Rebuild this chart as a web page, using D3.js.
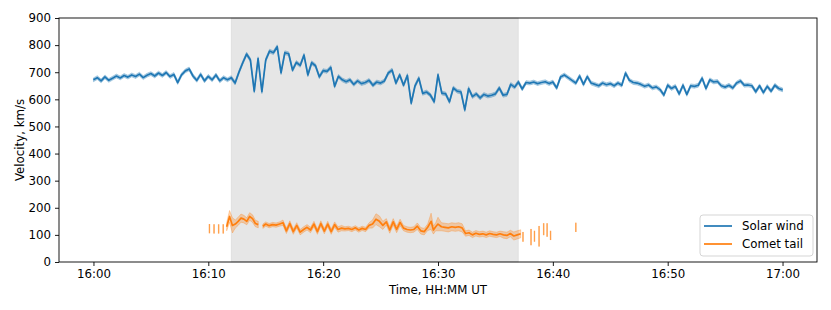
<!DOCTYPE html>
<html>
<head>
<meta charset="utf-8">
<script src="https://cdn.jsdelivr.net/npm/d3@7"></script>
<style>
  body { margin: 0; background: #fff; }
  svg { font-family: "DejaVu Sans", sans-serif; }
</style>
</head>
<body>
<div id="chart"></div>
<script>
var width = 831;
var height = 310;

// plot area, in pixels
var plotLeft = 59;
var plotRight = 817;
var plotTop = 18;
var plotBottom = 262;

var fontSize = 11.8;

var blue = "#1f77b4";
var orange = "#ff7f0e";

// Solar wind: one reading every 20 s starting at 16:00:00 (km/s)
var windStart = "16:00:00";
var windStepSeconds = 20;
var windSpeed = [
  672, 680, 668, 683, 670, 678, 686, 679, 688, 682, 690, 684,
  693, 680, 689, 695, 686, 697, 688, 699, 684, 692, 662, 690,
  705, 712, 686, 670, 692, 668, 685, 672, 690, 668, 680, 672,
  680, 660, 700, 735, 767, 745, 630, 750, 628, 745, 778, 772,
  794, 698, 772, 768, 708, 736, 725, 763, 690, 735, 724, 683,
  706, 703, 718, 648, 685, 672, 665, 672, 655, 668, 658, 662,
  670, 652, 664, 660, 668, 697, 708, 660, 690, 652, 688, 586,
  650, 678, 622, 627, 616, 591, 690, 623, 620, 591, 642, 630,
  627, 561, 640, 610, 620, 605, 618, 612, 615, 620, 642, 615,
  618, 655, 645, 664, 638, 662, 660, 664, 658, 662, 665, 658,
  664, 642, 682, 690, 680, 670, 660, 686, 655, 684, 660, 655,
  650, 660, 654, 658, 650, 660, 652, 697, 670, 662, 660, 655,
  648, 653, 642, 646, 636, 616, 652, 640, 648, 620, 652, 618,
  650, 648, 652, 678, 640, 672, 664, 666, 650, 645, 652, 642,
  660, 668, 652, 653, 650, 628, 650, 625, 648, 630, 652, 640,
  635
];
// uncertainty of the solar wind speed (km/s)
var windError = 7;

// Comet tail: minutes after 16:00, speed (km/s, null = gap), uncertainty (km/s)
var cometMinute = [
  10.1, 10.3, 10.5, 10.7, 10.9, 11.1, 11.3, 11.45,
  11.6, 11.85, 12.1, 12.35, 12.6, 12.85, 13.1, 13.35, 13.6, 13.85, 14.1, 14.35, 14.55,
  14.75, 15.0, 15.3, 15.6, 15.9, 16.2, 16.5, 16.8, 17.1, 17.4, 17.7, 18.0, 18.3, 18.6,
  18.9, 19.2, 19.5, 19.8, 20.1, 20.4, 20.7, 21.0, 21.3, 21.6, 21.9, 22.2, 22.5, 22.8,
  23.1, 23.4, 23.7, 24.0, 24.3, 24.6, 24.9, 25.2, 25.5, 25.8, 26.1, 26.4, 26.7, 27.0,
  27.3, 27.6, 27.9, 28.2, 28.5, 28.8, 29.1, 29.4, 29.6, 29.8, 30.0, 30.3, 30.6, 30.9,
  31.2, 31.5, 31.8, 32.1, 32.4, 32.7, 33.0, 33.3, 33.6, 33.9, 34.2, 34.5, 34.8, 35.1,
  35.4, 35.7, 36.0, 36.3, 36.6, 36.9, 37.2, 37.3,
  37.4, 37.7, 38.1, 38.25, 38.4, 38.6, 38.8, 39.0, 39.2, 39.35, 39.5, 39.65, 39.8, 40.5,
  42.0
];
var cometSpeed = [
  123, null, 122, null, 122, null, 122, null,
  130, 168, 135, 140, 150, 162, 158, 150, 168, 160, 142, 138, null,
  132, 140, 134, 138, 136, 140, 145, 115, 142, 112, 135, 110, 120, 128,
  118, 140, 112, 142, 114, 140, 112, 138, 120, 125, 122, 124, 120, 126,
  118, 124, 120, 135, 140, 158, 150, 135, 148, 118, 148, 120, 146, 125,
  120, 118, 120, 132, 115, 112, 128, 150, 118, 130, 140, 130, 128, 126,
  130, 128, 130, 126, 105, 108, 100, 106, 102, 104, 100, 105, 102, 100,
  104, 100, 98, 105, 96, 100, 104, null,
  93, null, 92, null, 95, null, 95, null, 121, null, 118, null, 98, null,
  128
];
var cometError = [
  17, 0, 17, 0, 17, 0, 17, 0,
  15, 22, 28, 15, 15, 15, 14, 13, 14, 14, 12, 12, 0,
  8, 8, 8, 8, 8, 8, 10, 10, 10, 10, 10, 10, 10, 10,
  10, 10, 10, 10, 10, 10, 10, 10, 10, 10, 8, 8, 8, 8,
  8, 8, 8, 10, 15, 20, 20, 15, 12, 12, 12, 12, 12, 10,
  10, 10, 10, 12, 12, 12, 12, 30, 15, 15, 25, 15, 15, 15,
  15, 15, 15, 15, 10, 10, 10, 10, 10, 10, 10, 10, 10, 10,
  10, 12, 12, 12, 15, 15, 15, 0,
  18, 0, 30, 0, 20, 0, 38, 0, 22, 0, 25, 0, 17, 0,
  17
];

// shaded interval
var spanStart = "16:12:00";
var spanEnd = "16:37:00";

var yTicks = [0, 100, 200, 300, 400, 500, 600, 700, 800, 900];
var xTickLabels = ["16:00", "16:10", "16:20", "16:30", "16:40", "16:50", "17:00"];

var parseTime = d3.timeParse("%H:%M:%S");
var day = parseTime("16:00:00");

function minutesToDate(m) {
    return new Date(day.getTime() + m * 60000);
}

var windData = windSpeed.map(function (v, i) {
    var t = new Date(parseTime(windStart).getTime() + i * windStepSeconds * 1000);
    return { time: t, value: v, lo: v - windError, hi: v + windError };
});

var cometData = cometMinute.map(function (m, i) {
    var v = cometSpeed[i];
    return {
        time: minutesToDate(m),
        value: v,
        lo: v === null ? null : v - cometError[i],
        hi: v === null ? null : v + cometError[i]
    };
});

// matplotlib style 5% margin on the time axis
var xScale = d3.scaleTime()
    .domain([minutesToDate(-3), minutesToDate(63)])
    .range([plotLeft, plotRight]);

var yScale = d3.scaleLinear()
    .domain([0, 900])
    .range([plotBottom, plotTop]);

var svg = d3.select("#chart").append("svg")
    .attr("width", width)
    .attr("height", height);

// shaded interval
svg.append("rect")
    .attr("x", xScale(parseTime(spanStart)))
    .attr("y", plotTop)
    .attr("width", xScale(parseTime(spanEnd)) - xScale(parseTime(spanStart)))
    .attr("height", plotBottom - plotTop)
    .attr("fill", "#808080")
    .attr("fill-opacity", 0.2)
    .attr("stroke", "#808080")
    .attr("stroke-opacity", 0.12);

function hasValue(d) {
    return d.value !== null;
}

var band = d3.area()
    .defined(hasValue)
    .x(function (d) { return xScale(d.time); })
    .y0(function (d) { return yScale(d.lo); })
    .y1(function (d) { return yScale(d.hi); });

var line = d3.line()
    .defined(hasValue)
    .x(function (d) { return xScale(d.time); })
    .y(function (d) { return yScale(d.value); });

function drawSeries(data, color) {
    svg.append("path")
        .attr("d", band(data))
        .attr("fill", color)
        .attr("fill-opacity", 0.3)
        .attr("stroke", color)
        .attr("stroke-opacity", 0.3)
        .attr("stroke-width", 1);

    // single readings between gaps only show their error bar
    var isolated = data.filter(function (d, i) {
        var prev = data[i - 1];
        var next = data[i + 1];
        return hasValue(d) && (!prev || !hasValue(prev)) && (!next || !hasValue(next));
    });
    svg.selectAll(null)
        .data(isolated)
        .enter()
        .append("line")
        .attr("x1", function (d) { return xScale(d.time); })
        .attr("x2", function (d) { return xScale(d.time); })
        .attr("y1", function (d) { return yScale(d.lo); })
        .attr("y2", function (d) { return yScale(d.hi); })
        .attr("stroke", color)
        .attr("stroke-opacity", 0.5)
        .attr("stroke-width", 1.5);

    svg.append("path")
        .attr("d", line(data))
        .attr("fill", "none")
        .attr("stroke", color)
        .attr("stroke-width", 1.7)
        .attr("stroke-linejoin", "round");
}

drawSeries(windData, blue);
drawSeries(cometData, orange);

// axes
var xAxis = d3.axisBottom(xScale)
    .tickValues(xTickLabels.map(function (s) { return parseTime(s + ":00"); }))
    .tickFormat(d3.timeFormat("%H:%M"))
    .tickSize(4)
    .tickPadding(4);

var yAxis = d3.axisLeft(yScale)
    .tickValues(yTicks)
    .tickSize(4)
    .tickPadding(4);

var xAxisGroup = svg.append("g")
    .attr("transform", "translate(0," + plotBottom + ")")
    .call(xAxis);

var yAxisGroup = svg.append("g")
    .attr("transform", "translate(" + plotLeft + ",0)")
    .call(yAxis);

[xAxisGroup, yAxisGroup].forEach(function (g) {
    g.select(".domain").remove();
    g.selectAll("line").attr("stroke", "#000").attr("stroke-width", 0.9);
    g.selectAll("text")
        .attr("font-family", "DejaVu Sans, sans-serif")
        .attr("font-size", fontSize)
        .attr("fill", "#000");
});

svg.append("rect")
    .attr("x", plotLeft)
    .attr("y", plotTop)
    .attr("width", plotRight - plotLeft)
    .attr("height", plotBottom - plotTop)
    .attr("fill", "none")
    .attr("stroke", "#000")
    .attr("stroke-width", 0.9);

svg.append("text")
    .attr("x", (plotLeft + plotRight) / 2)
    .attr("y", 294)
    .attr("text-anchor", "middle")
    .attr("font-size", fontSize)
    .text("Time, HH:MM UT");

svg.append("text")
    .attr("transform", "translate(24," + (plotTop + plotBottom) / 2 + ") rotate(-90)")
    .attr("text-anchor", "middle")
    .attr("font-size", fontSize)
    .text("Velocity, km/s");

// legend
var legendItems = [
    { name: "Solar wind", color: blue },
    { name: "Comet tail", color: orange }
];

var legend = svg.append("g").attr("transform", "translate(700,215)");

legend.append("rect")
    .attr("width", 113)
    .attr("height", 41)
    .attr("rx", 3)
    .attr("fill", "#fff")
    .attr("fill-opacity", 0.8)
    .attr("stroke", "#d0d0d0")
    .attr("stroke-width", 0.9);

legend.selectAll("line")
    .data(legendItems)
    .enter()
    .append("line")
    .attr("x1", 4)
    .attr("x2", 32)
    .attr("y1", function (d, i) { return 11 + i * 18; })
    .attr("y2", function (d, i) { return 11 + i * 18; })
    .attr("stroke", function (d) { return d.color; })
    .attr("stroke-width", 1.7);

legend.selectAll("text")
    .data(legendItems)
    .enter()
    .append("text")
    .attr("x", 42)
    .attr("y", function (d, i) { return 15 + i * 18; })
    .attr("font-size", fontSize)
    .text(function (d) { return d.name; });
</script>
</body>
</html>
